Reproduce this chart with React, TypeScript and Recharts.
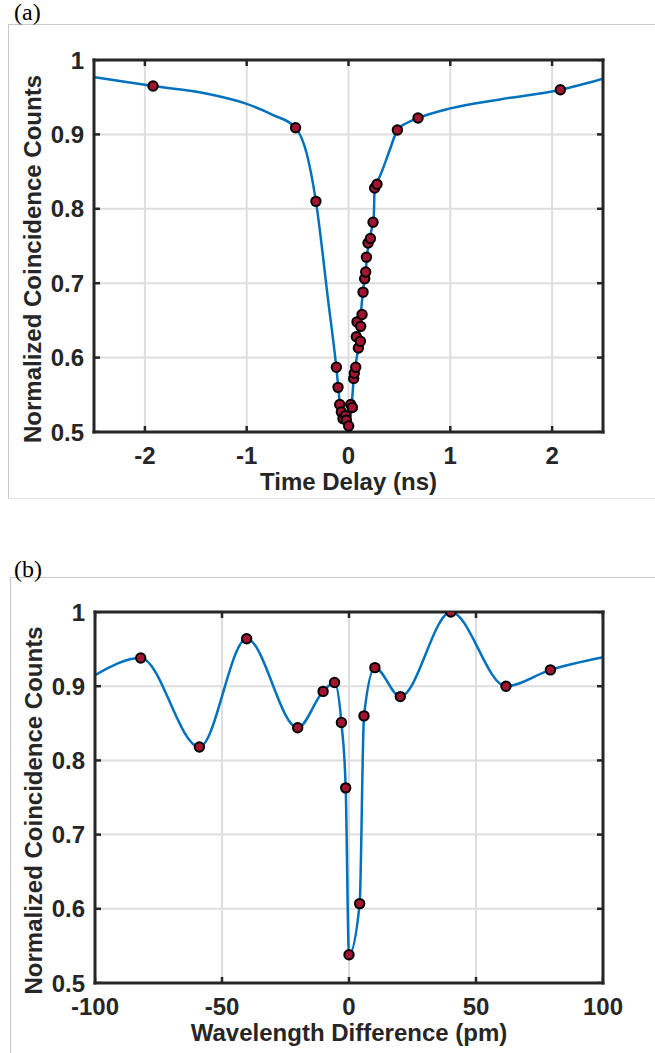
import { ComposedChart, Line, Scatter, XAxis, YAxis, CartesianGrid, Label } from 'recharts';

// (a) HOM dip vs time delay — measured points
const delayNs = [
  -1.92, -0.52, -0.32, -0.119, -0.103, -0.086, -0.07, -0.054, -0.028, -0.021, 0.002, 0.022,
  0.038, 0.051, 0.057, 0.071, 0.097, 0.077, 0.117, 0.084, 0.12, 0.133, 0.143, 0.159, 0.169,
  0.176, 0.192, 0.215, 0.241, 0.257, 0.28, 0.48, 0.683, 2.081,
];
const delayCounts = [
  0.965, 0.909, 0.81, 0.587, 0.56, 0.537, 0.527, 0.518, 0.522, 0.516, 0.508, 0.537,
  0.533, 0.572, 0.579, 0.587, 0.613, 0.628, 0.622, 0.648, 0.642, 0.658, 0.688, 0.706, 0.715,
  0.735, 0.754, 0.76, 0.782, 0.828, 0.833, 0.906, 0.922, 0.96,
];
// (a) fitted curve
const delayFitNs = [
  -2.5, -1.92, -1.4, -1.0, -0.74, -0.52, -0.41, -0.32, -0.2, -0.12, -0.1, -0.085, -0.05,
  -0.005, 0.028, 0.051, 0.1, 0.127, 0.143, 0.169, 0.192, 0.225, 0.248, 0.257, 0.306, 0.405,
  0.48, 0.568, 0.683, 1.0, 1.485, 2.081, 2.5,
];
const delayFitCounts = [
  0.977, 0.965, 0.955, 0.941, 0.926, 0.909, 0.874, 0.81, 0.677, 0.587, 0.56, 0.537, 0.518,
  0.505, 0.531, 0.572, 0.619, 0.668, 0.69, 0.717, 0.749, 0.771, 0.789, 0.829, 0.843, 0.879,
  0.906, 0.915, 0.922, 0.935, 0.947, 0.96, 0.975,
];

// (b) coincidence vs wavelength difference — measured points
const wavelengthPm = [-82, -58.9, -40.3, -20.2, -10.2, -5.7, -3.0, -1.3, 0, 4.2, 5.9, 10.2, 20.2, 40.1, 61.8, 79.3];
const wavelengthCounts = [0.938, 0.818, 0.964, 0.844, 0.893, 0.905, 0.851, 0.763, 0.538, 0.607, 0.86, 0.925, 0.886, 1.0, 0.9, 0.922];
// (b) fitted curve
const wavelengthFitPm = [-100, -82, -58.9, -40.3, -20.2, -10.2, -5.7, -3.0, -1.3, 0, 4.2, 5.9, 10.2, 20.2, 40.1, 61.8, 79.3, 100];
const wavelengthFitCounts = [0.915, 0.938, 0.818, 0.964, 0.844, 0.893, 0.905, 0.851, 0.763, 0.538, 0.607, 0.86, 0.925, 0.886, 1.0, 0.9, 0.922, 0.939];

const delayTicks = [-2, -1, 0, 1, 2];
const wavelengthTicks = [-100, -50, 0, 50, 100];
const countTicks = [0.5, 0.6, 0.7, 0.8, 0.9, 1];
const countGrid = [0.6, 0.7, 0.8, 0.9];
const countDomain: [number, number] = [0.5, 1];

const FONT = '"Liberation Sans", Arial, Helvetica, sans-serif';
const INK = '#262626';
const BLUE = '#0072BD';
const RED = '#A2142F';
const TICK_LEN = 6;

const toRows = (xs: number[], ys: number[]) => xs.map((x, i) => ({ x, y: ys[i] }));

const textStyle = { fill: INK, fontWeight: 700, fontFamily: FONT };
const boxLine = { stroke: INK, strokeWidth: 3, strokeLinecap: 'square' as const };

function Marker(props: any) {
  const { cx, cy } = props;
  if (cx == null || cy == null) return null;
  return <circle cx={cx} cy={cy} r={4.7} fill={RED} stroke="#000" strokeWidth={2} />;
}

// inward MATLAB-style tick marks, one shape per edge direction
const tickMark = (dx: number, dy: number) => (props: any) => {
  const { cx, cy } = props;
  if (cx == null || cy == null) return <g />;
  return <line x1={cx} y1={cy} x2={cx + dx * TICK_LEN} y2={cy + dy * TICK_LEN} stroke={INK} strokeWidth={2.5} />;
};
const tickUp = tickMark(0, -1);
const tickDown = tickMark(0, 1);
const tickRight = tickMark(1, 0);
const tickLeft = tickMark(-1, 0);

function XTitle({ viewBox, text }: any) {
  const { x, y, width } = viewBox;
  return (
    <text x={x + width / 2} y={y + 58} textAnchor="middle" fontSize={24} {...textStyle}>
      {text}
    </text>
  );
}

function YTitle({ viewBox, text }: any) {
  const { x, y, height } = viewBox;
  const cx = x - 2;
  const cy = y + height / 2 + 13;
  return (
    <text
      x={cx}
      y={cy}
      transform={`rotate(-90 ${cx} ${cy})`}
      textAnchor="middle"
      dominantBaseline="central"
      fontSize={24}
      {...textStyle}
    >
      {text}
    </text>
  );
}

interface PanelProps {
  fit: { x: number; y: number }[];
  points: { x: number; y: number }[];
  domain: [number, number];
  xTicks: number[];
  xTitle: string;
  height: number;
  bottom: number;
  left: number;
}

function Panel({ fit, points, domain, xTicks, xTitle, height, bottom, left }: PanelProps) {
  const [x0, x1] = domain;
  const [y0, y1] = countDomain;
  const bottomTicks = xTicks.map((x) => ({ x, y: y0 }));
  const topTicks = xTicks.map((x) => ({ x, y: y1 }));
  const leftTicks = countTicks.map((y) => ({ x: x0, y }));
  const rightTicks = countTicks.map((y) => ({ x: x1, y }));

  return (
    <ComposedChart width={655} height={height} margin={{ top: 59, right: 51, bottom, left }}>
      <CartesianGrid
        stroke="#dedede"
        strokeWidth={2}
        syncWithTicks
        horizontalValues={countGrid}
        verticalValues={xTicks}
      />
      <XAxis
        type="number"
        dataKey="x"
        domain={domain}
        ticks={xTicks}
        allowDataOverflow
        height={40}
        tickSize={0}
        tickMargin={15}
        tickLine={false}
        axisLine={boxLine}
        stroke={INK}
        tick={{ fontSize: 24, ...textStyle }}
      >
        <Label content={<XTitle text={xTitle} />} />
      </XAxis>
      <XAxis
        xAxisId="top"
        orientation="top"
        type="number"
        domain={domain}
        ticks={xTicks}
        allowDataOverflow
        height={1}
        tick={false}
        tickLine={false}
        axisLine={boxLine}
        stroke={INK}
      />
      <YAxis
        type="number"
        domain={countDomain}
        ticks={countTicks}
        allowDataOverflow
        width={60}
        tickSize={0}
        tickMargin={10}
        tickLine={false}
        axisLine={boxLine}
        stroke={INK}
        tick={{ fontSize: 24, ...textStyle }}
      >
        <Label content={<YTitle text="Normalized Coincidence Counts" />} />
      </YAxis>
      <YAxis
        yAxisId="right"
        orientation="right"
        type="number"
        domain={countDomain}
        ticks={countTicks}
        allowDataOverflow
        width={1}
        tick={false}
        tickLine={false}
        axisLine={boxLine}
        stroke={INK}
      />
      <Scatter name="ticks-bottom" data={bottomTicks} dataKey="y" shape={tickUp} isAnimationActive={false} />
      <Scatter name="ticks-top" data={topTicks} dataKey="y" shape={tickDown} isAnimationActive={false} />
      <Scatter name="ticks-left" data={leftTicks} dataKey="y" shape={tickRight} isAnimationActive={false} />
      <Scatter name="ticks-right" data={rightTicks} dataKey="y" shape={tickLeft} isAnimationActive={false} />
      <Line
        data={fit}
        dataKey="y"
        type="monotone"
        stroke={BLUE}
        strokeWidth={2.5}
        dot={false}
        activeDot={false}
        isAnimationActive={false}
      />
      <Scatter name="measured" data={points} dataKey="y" shape={<Marker />} isAnimationActive={false} />
    </ComposedChart>
  );
}

const frameA = {
  position: 'absolute' as const,
  left: 8,
  top: 24,
  width: 660,
  height: 473,
  borderLeft: '1px solid #c8c8c8',
  borderTop: '1px solid #c8c8c8',
  borderBottom: '1px solid #e4e4e4',
};
const frameB = {
  position: 'absolute' as const,
  left: 10,
  top: 577,
  width: 660,
  height: 500,
  borderLeft: '1px solid #c8c8c8',
  borderTop: '1px solid #c8c8c8',
};
const panelTag = {
  position: 'absolute' as const,
  left: 14,
  fontFamily: '"Liberation Serif", "Times New Roman", serif',
  fontSize: 24,
  lineHeight: '24px',
  color: '#000',
};

export default function App() {
  return (
    <div style={{ position: 'absolute', left: 0, top: 0, width: 655, height: 1053, overflow: 'hidden', background: '#fff' }}>
      <div style={frameA} />
      <div style={frameB} />
      <div style={{ ...panelTag, top: 0 }}>(a)</div>
      <div style={{ ...panelTag, top: 557 }}>(b)</div>
      <div style={{ position: 'absolute', left: 0, top: 0 }}>
        <Panel
          fit={toRows(delayFitNs, delayFitCounts)}
          points={toRows(delayNs, delayCounts)}
          domain={[-2.5, 2.5]}
          xTicks={delayTicks}
          xTitle="Time Delay (ns)"
          height={500}
          bottom={28}
          left={34}
        />
      </div>
      <div style={{ position: 'absolute', left: 0, top: 552 }}>
        <Panel
          fit={toRows(wavelengthFitPm, wavelengthFitCounts)}
          points={toRows(wavelengthPm, wavelengthCounts)}
          domain={[-100, 100]}
          xTicks={wavelengthTicks}
          xTitle="Wavelength Difference (pm)"
          height={501}
          bottom={30}
          left={35}
        />
      </div>
    </div>
  );
}
